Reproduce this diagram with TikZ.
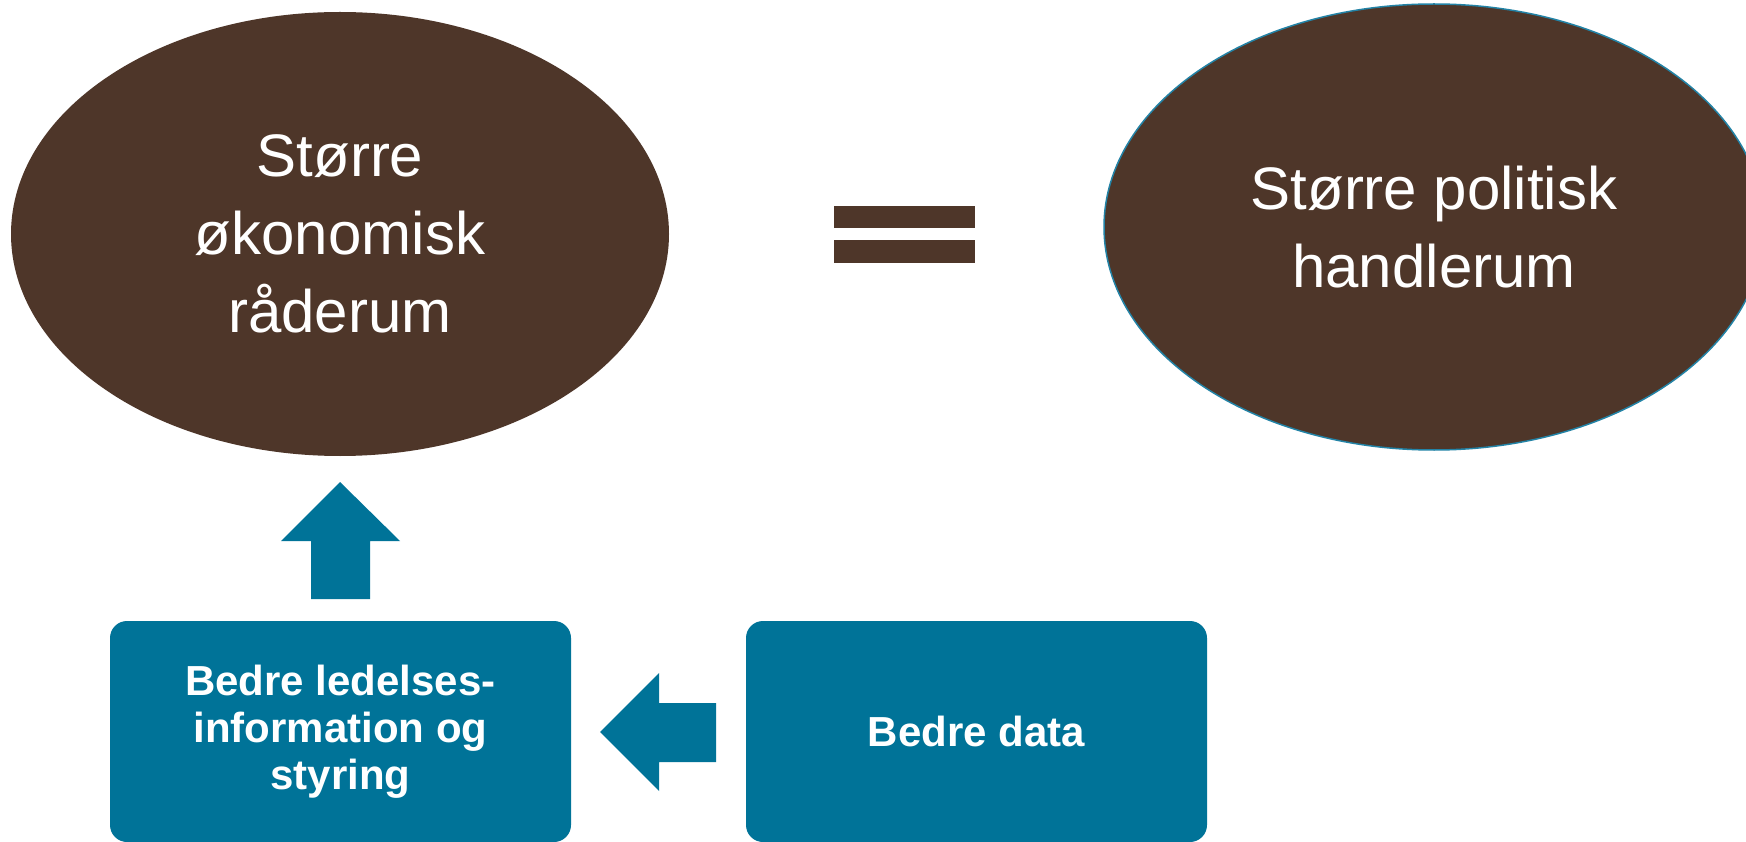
\documentclass[tikz,border=0pt]{standalone}
\usepackage{fontspec}
\setmainfont{Liberation Sans}
\usetikzlibrary{shapes.geometric}
\definecolor{brownfill}{HTML}{4E3629}
\definecolor{tealfill}{HTML}{007398}
\definecolor{tealline}{HTML}{2383A6}
\begin{document}
\begin{tikzpicture}[x=1pt,y=-1pt,
  bigell/.style={ellipse, fill=brownfill, text=white, align=center, inner sep=0pt,
    minimum width=658pt, minimum height=444pt, font=\fontsize{60}{78}\selectfont},
  tealbox/.style={rectangle, rounded corners=17pt, fill=tealfill, text=white, align=center,
    minimum width=461pt, minimum height=221pt, inner sep=0pt,
    font=\bfseries\fontsize{42}{47}\selectfont},
  blockarrow/.style={fill=tealfill, draw=none},
  eqbar/.style={fill=brownfill, draw=none}]
\useasboundingbox (0,0) rectangle (1746,842);
\fill[white] (0,0) rectangle (1746,842);
\clip (0,0) rectangle (1746,842);

\node[bigell] (eco) at (340,234) {Større\\økonomisk\\råderum};
\node[bigell, draw=tealline, line width=1.5pt, minimum width=660pt, minimum height=446pt] (pol) at (1434,227) {Større politisk\\handlerum};

\fill[eqbar] (834,206) rectangle (975,228);
\fill[eqbar] (834,240) rectangle (975,263);

\node[tealbox] (led) at (340.5,731.5) {Bedre ledelses-\\information og\\styring};
\node[tealbox] (data) at (976.5,731.5) {Bedre data};

\fill[blockarrow] (340,482) -- (400,541) -- (370,541) -- (370,599) -- (311,599) -- (311,541) -- (281,541) -- cycle;
\fill[blockarrow] (600,732) -- (659,673) -- (659,703) -- (716,703) -- (716,762) -- (659,762) -- (659,791) -- cycle;
\end{tikzpicture}
\end{document}
